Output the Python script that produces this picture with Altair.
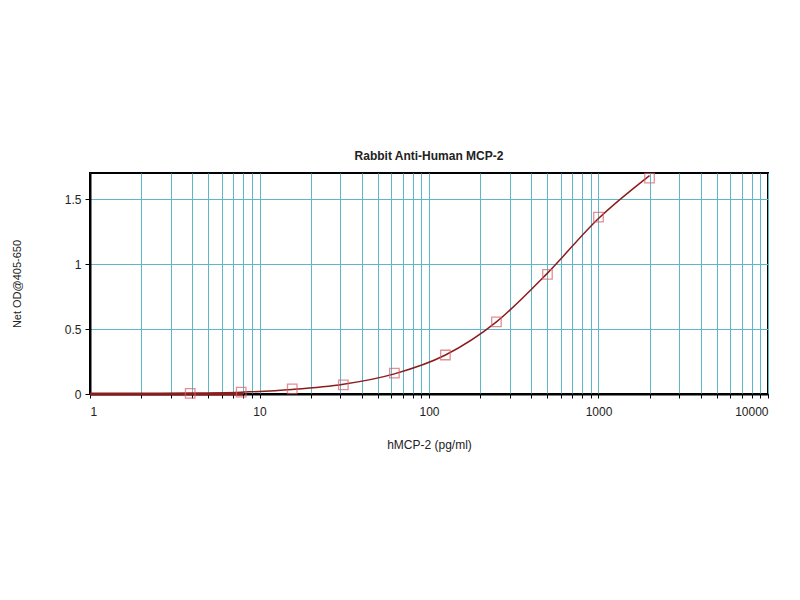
import altair as alt
import pandas as pd

# Standard points (pg/ml) and measured OD
conc = [3.9, 7.8, 15.6, 31.25, 62.5, 125, 250, 500, 1000, 2000]
od = [0.005, 0.015, 0.04, 0.07, 0.16, 0.30, 0.555, 0.92, 1.36, 1.66]

# Fitted curve
curve_x = [1, 2, 3.9, 7.8, 15.6, 31.25, 62.5, 125, 250, 500, 1000, 2000]
curve_y = [0.0, 0.002, 0.005, 0.014, 0.035, 0.075, 0.155, 0.30, 0.555, 0.93, 1.35, 1.68]

grid_vals = [m * 10 ** e for e in range(0, 4) for m in range(1, 10)] + [10000]

pts = pd.DataFrame({"x": conc, "y": od})
crv = pd.DataFrame({"x": curve_x, "y": curve_y})

xscale = alt.Scale(type="log", domain=[1, 10000])
yscale = alt.Scale(domain=[0, 1.7], nice=False)

xaxis = alt.Axis(
    title="hMCP-2 (pg/ml)",
    values=grid_vals,
    labelExpr="abs(log(datum.value)/LN10 - round(log(datum.value)/LN10)) < 1e-6 ? format(datum.value, 'd') : ''",
    labelOverlap=False,
    grid=True, gridColor="#5cb8c9", gridWidth=1,
    tickColor="#000", domainColor="#000", domainWidth=2,
    labelFont="Liberation Sans", labelFontSize=12, labelColor="#222",
    titleFont="Liberation Sans", titleFontSize=12, titleFontWeight="normal", titleColor="#222",
    titlePadding=22, labelPadding=8, tickSize=4,
)
yaxis = alt.Axis(
    title="Net OD@405-650",
    values=[0, 0.5, 1, 1.5],
    labelExpr="format(datum.value, '~g')",
    grid=True, gridColor="#5cb8c9", gridWidth=1,
    tickColor="#000", domainColor="#000", domainWidth=2,
    labelFont="Liberation Sans", labelFontSize=12, labelColor="#222",
    titleFont="Liberation Sans", titleFontSize=11, titleFontWeight="normal", titleColor="#222",
    titlePadding=42, labelPadding=4, tickSize=5,
)

line = alt.Chart(crv).mark_line(color="#8b1c1c", strokeWidth=1.5, interpolate="monotone").encode(
    x=alt.X("x:Q", scale=xscale, axis=xaxis),
    y=alt.Y("y:Q", scale=yscale, axis=yaxis),
)
base_rule = alt.Chart(pd.DataFrame({"x": [1], "x2": [8], "y": [0]})).mark_rule(
    color="#8b1c1c", strokeWidth=3
).encode(x=alt.X("x:Q", scale=xscale), x2="x2:Q", y=alt.Y("y:Q", scale=yscale))

points = alt.Chart(pts).mark_point(shape="square", filled=False, color="#d9606a", size=90, strokeWidth=1.3).encode(
    x=alt.X("x:Q", scale=xscale),
    y=alt.Y("y:Q", scale=yscale),
)

chart = (line + base_rule + points).properties(
    width=678, height=221,
    title=alt.Title("Rabbit Anti-Human MCP-2", font="Liberation Sans", fontSize=12, fontWeight="bold", color="#222", offset=8),
    autosize=alt.AutoSizeParams(type="none"),
    padding={"left": 82, "top": 165, "right": 20, "bottom": 190},
).configure_view(stroke="#000", strokeWidth=2)

chart.save("out.html", embed_options={"renderer": "svg", "actions": False})
